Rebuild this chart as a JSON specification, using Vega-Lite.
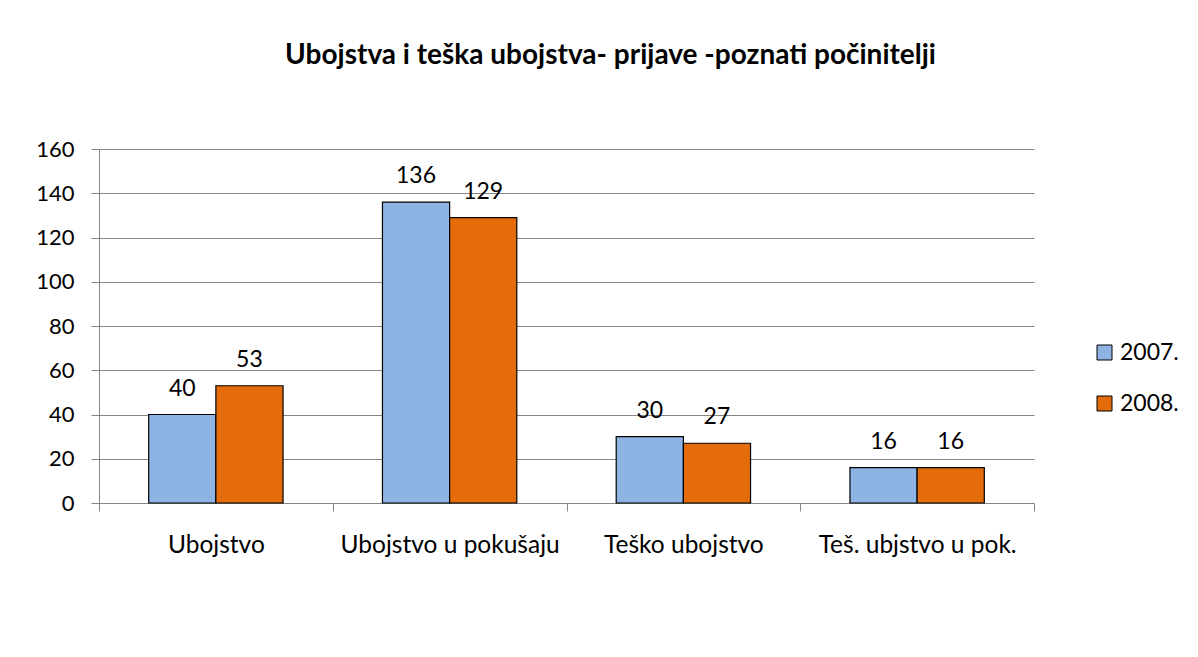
{
  "$schema": "https://vega.github.io/schema/vega-lite/v6.json",
  "autosize": "none",
  "width": 935,
  "height": 354,
  "padding": {"left": 99, "top": 149, "right": 164, "bottom": 154},
  "background": "white",
  "title": {
    "text": "Ubojstva i teška ubojstva- prijave -poznati počinitelji",
    "font": "Lato",
    "fontSize": 28,
    "fontWeight": "bold",
    "color": "#000000",
    "anchor": "middle",
    "dx": 44,
    "offset": 68
  },
  "data": {
    "values": [
      {"kategorija": "Ubojstvo", "godina": "2007.", "broj": 40},
      {"kategorija": "Ubojstvo", "godina": "2008.", "broj": 53},
      {"kategorija": "Ubojstvo u pokušaju", "godina": "2007.", "broj": 136},
      {"kategorija": "Ubojstvo u pokušaju", "godina": "2008.", "broj": 129},
      {"kategorija": "Teško ubojstvo", "godina": "2007.", "broj": 30},
      {"kategorija": "Teško ubojstvo", "godina": "2008.", "broj": 27},
      {"kategorija": "Teš. ubjstvo u pok.", "godina": "2007.", "broj": 16},
      {"kategorija": "Teš. ubjstvo u pok.", "godina": "2008.", "broj": 16}
    ]
  },
  "config": {
    "view": {"stroke": null},
    "font": "Lato"
  },
  "encoding": {
    "x": {
      "field": "kategorija",
      "type": "nominal",
      "sort": null,
      "scale": {"paddingInner": 0, "paddingOuter": 0},
      "axis": {
        "title": null,
        "labelAngle": 0,
        "labelFont": "Lato",
        "labelFontSize": 24.5,
        "labelColor": "#000000",
        "labelPadding": 22,
        "labelLimit": 0,
        "tickBand": "extent",
        "tickSize": 8,
        "tickColor": "#868686",
        "domainColor": "#868686",
        "grid": false
      }
    },
    "xOffset": {
      "field": "godina",
      "type": "nominal",
      "scale": {"paddingInner": 0, "paddingOuter": 0.74}
    },
    "y": {
      "field": "broj",
      "type": "quantitative",
      "scale": {"domain": [0, 160]},
      "axis": {
        "title": null,
        "values": [0, 20, 40, 60, 80, 100, 120, 140, 160],
        "labelFont": "Lato",
        "labelFontSize": 22,
        "labelColor": "#000000",
        "labelPadding": 17,
        "tickSize": 8,
        "tickColor": "#868686",
        "domainColor": "#868686",
        "gridColor": "#868686",
        "gridOpacity": 1,
        "gridWidth": 1
      }
    }
  },
  "layer": [
    {
      "mark": {"type": "bar", "stroke": "#000000", "strokeWidth": 1.2},
      "encoding": {
        "color": {
          "field": "godina",
          "type": "nominal",
          "scale": {"domain": ["2007.", "2008."], "range": ["#8EB4E3", "#E46C0A"]},
          "legend": {
            "title": null,
            "orient": "none",
            "legendX": 994,
            "legendY": 192,
            "symbolType": "square",
            "symbolSize": 225,
            "symbolStrokeColor": "#000000",
            "symbolStrokeWidth": 1,
            "labelFont": "Lato",
            "labelFontSize": 23,
            "labelColor": "#000000",
            "rowPadding": 27,
            "labelOffset": 4
          }
        }
      }
    },
    {
      "mark": {"type": "text", "dy": -19, "baseline": "alphabetic", "fontSize": 23, "font": "Lato", "color": "#000000"},
      "encoding": {
        "text": {"field": "broj", "type": "quantitative"}
      }
    }
  ]
}
